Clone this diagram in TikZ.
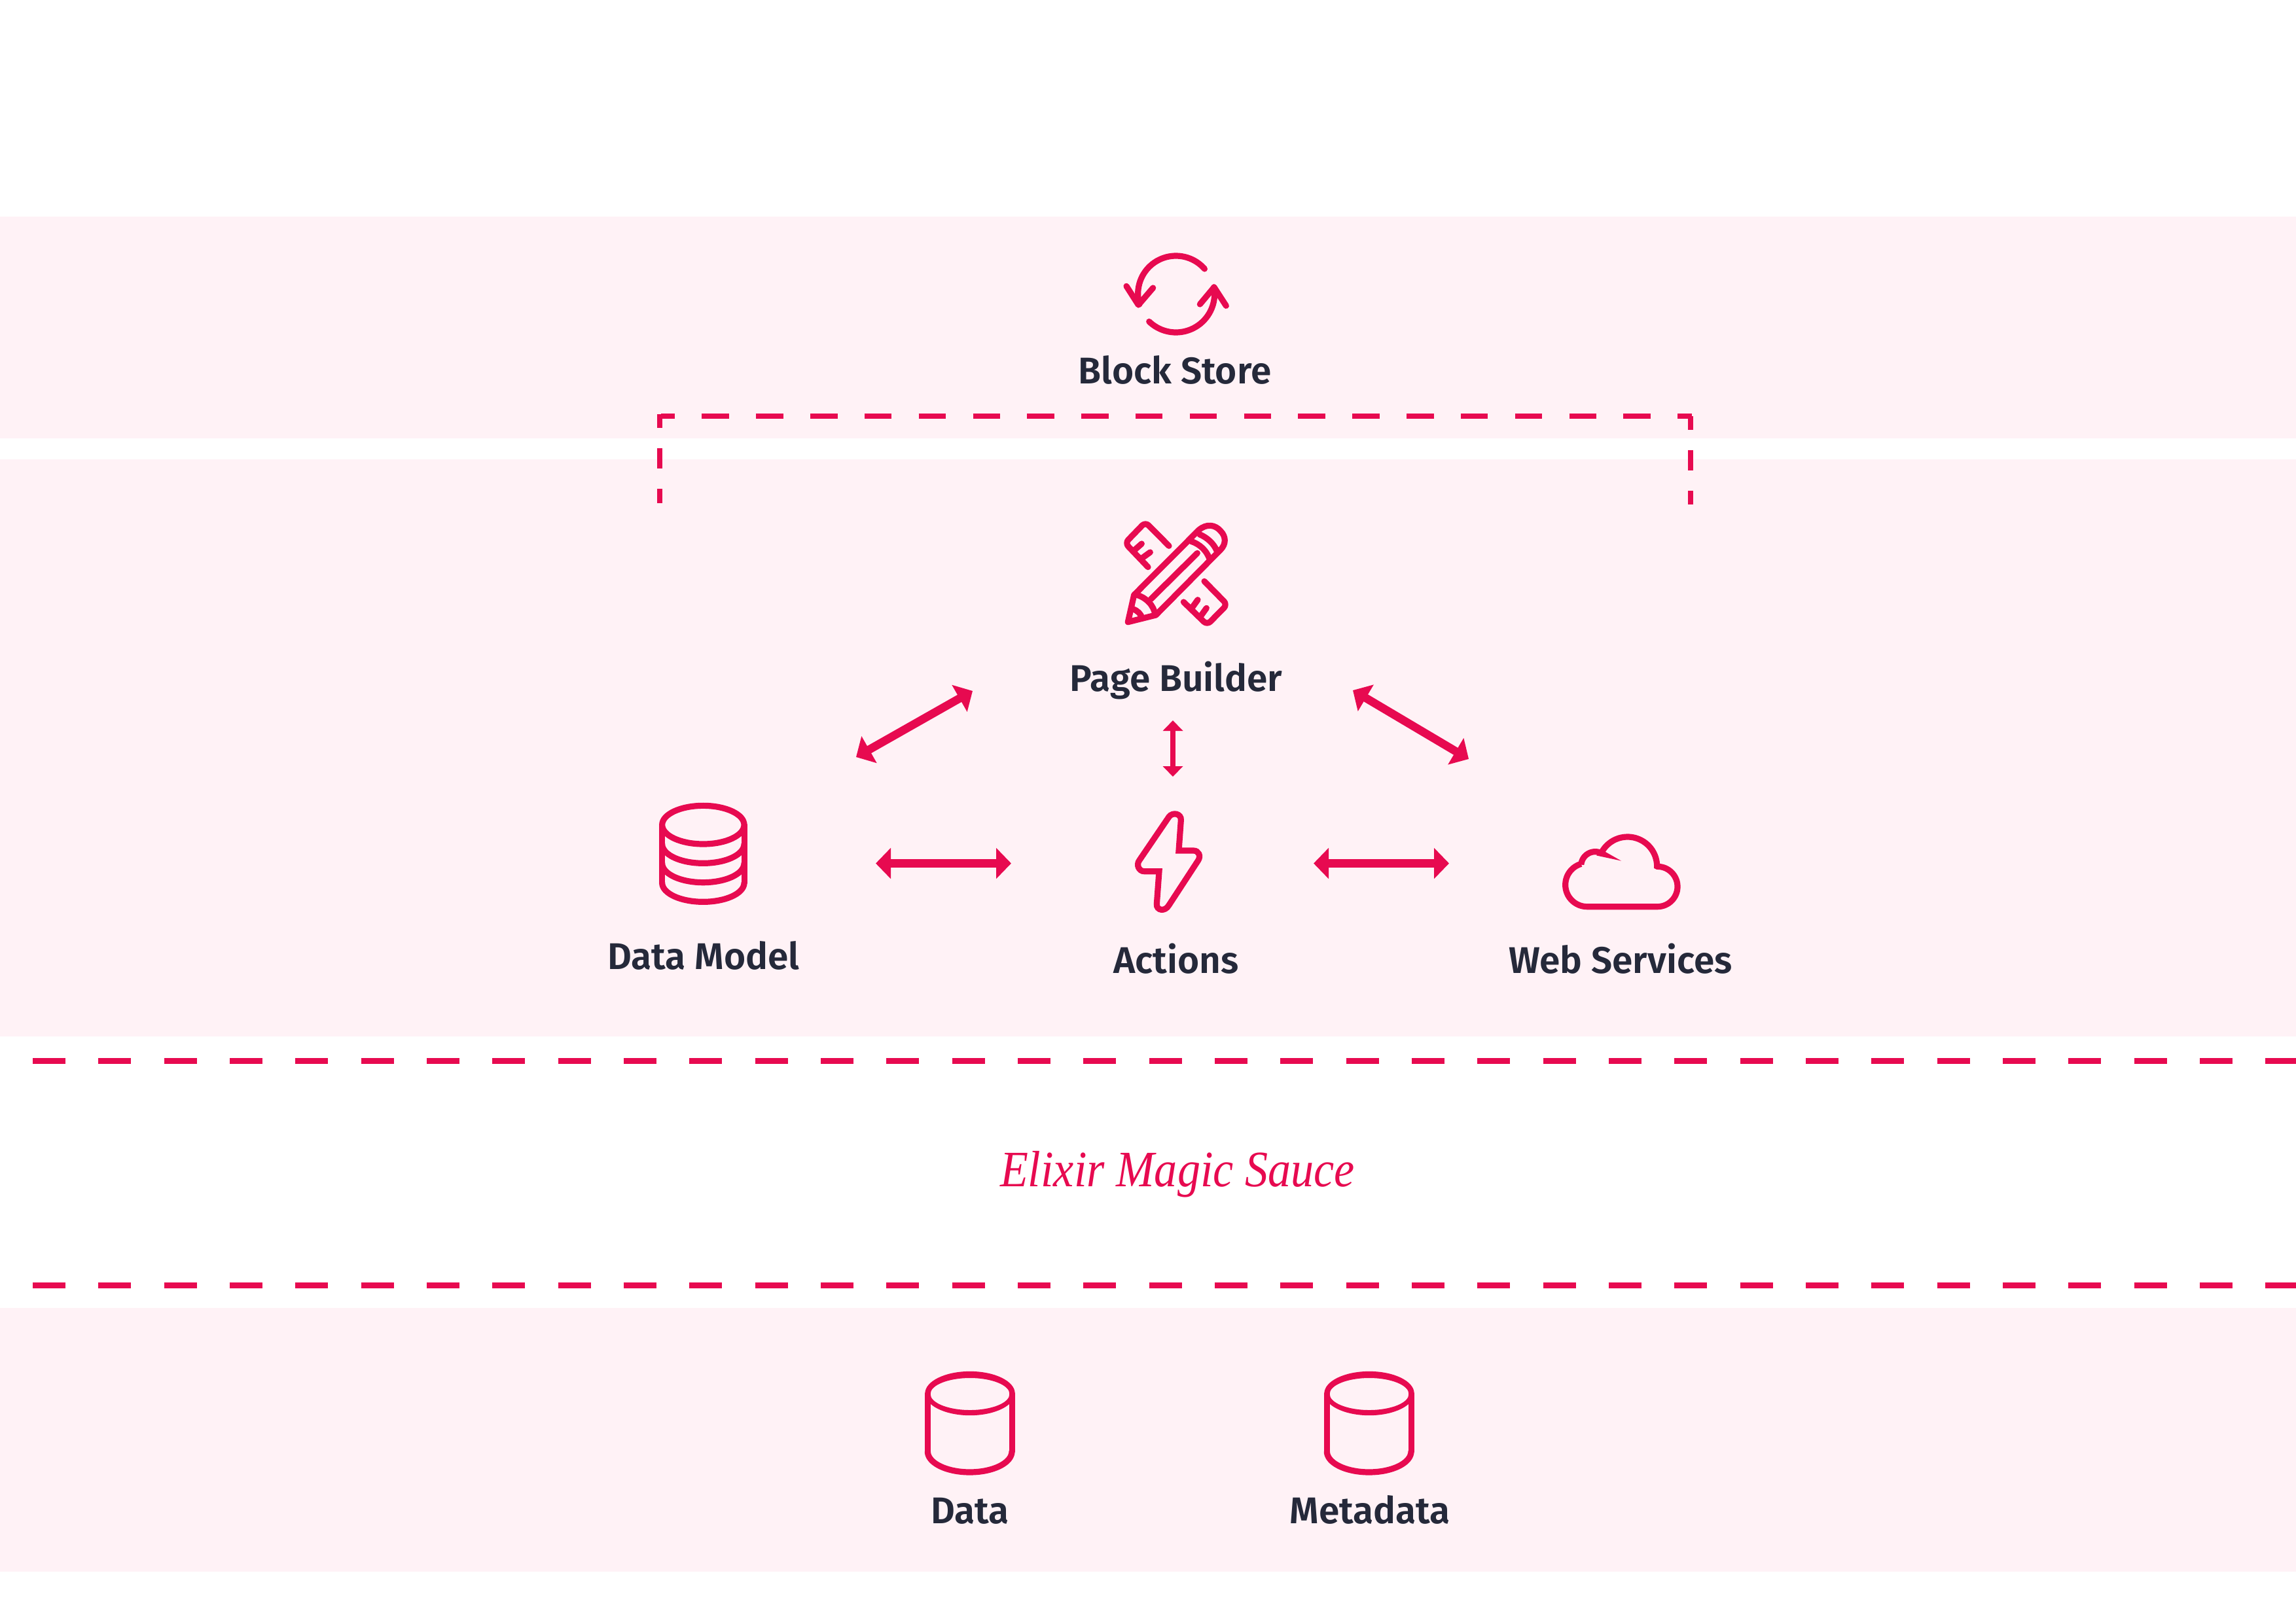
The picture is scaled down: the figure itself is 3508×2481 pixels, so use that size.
\documentclass[tikz,border=0pt]{standalone}
\usepackage{fontspec}
\usetikzlibrary{arrows.meta}
\newfontfamily\labfont{Fira Sans SemiBold}
\newfontfamily\magicfont[FakeStretch=0.9]{Liberation Serif Italic}
\definecolor{accent}{HTML}{E70A50}
\definecolor{bandpink}{HTML}{FFF2F6}
\definecolor{inktext}{HTML}{25293A}
\newcommand\earc[6]{plot[domain=#5:#6,samples=40] ({#1+#3*cos(\x)},{#2+#4*sin(\x)})}
\newcommand\larc[6]{-- plot[domain=#5:#6,samples=40] ({#1+#3*cos(\x)},{#2+#4*sin(\x)})}
\tikzset{
  band/.style={fill=bandpink,draw=none},
  ico/.style={draw=accent,line width=9.2pt,line cap=round,line join=round},
  icomiter/.style={draw=accent,line width=9.2pt,line cap=round,line join=miter,miter limit=10},
  sep/.style={draw=accent,line width=8.4pt,dash pattern=on 50pt off 50.33pt},
  brh/.style={draw=accent,line width=8.4pt,dash pattern=on 41.5pt off 41.33pt,dash phase=20.5pt},
  brv/.style={draw=accent,line width=8.4pt,dash pattern=on 31pt off 31pt,dash phase=10pt},
  bigarrow/.style={draw=accent,fill=accent,line width=12.6pt,{Triangle[length=23pt,width=46pt]}-{Triangle[length=23pt,width=46pt]}},
  smallarrow/.style={draw=accent,fill=accent,line width=8.7pt,{Triangle[length=16pt,width=30pt]}-{Triangle[length=16pt,width=30pt]}},
  lab/.style={anchor=base,inner sep=0pt,text=inktext,font=\labfont\fontsize{56.8}{60}\selectfont},
  magic/.style={anchor=base,inner sep=0pt,text=accent,font=\magicfont\fontsize{78}{90}\selectfont},
}
\begin{document}
\begin{tikzpicture}[x=1pt,y=-1pt]
\useasboundingbox (0,0) rectangle (3508,2481);
\fill[white] (0,0) rectangle (3508,2481);
% bands
\path[band] (0,331) rectangle (3508,670);
\path[band] (0,702) rectangle (3508,1584);
\path[band] (0,1999) rectangle (3508,2402);
% separators
\coordinate (sepAl) at (50,1621.5); \coordinate (sepAr) at (3508,1621.5);
\coordinate (sepBl) at (50,1964.5); \coordinate (sepBr) at (3508,1964.5);
\draw[sep] (sepAl) -- (sepAr);
\draw[sep] (sepBl) -- (sepBr);
% bracket
\coordinate (brTL) at (1010,636); \coordinate (brTR) at (2585,636);
\coordinate (brLa) at (1008,633); \coordinate (brLb) at (1008,769);
\coordinate (brRa) at (2583,636); \coordinate (brRb) at (2583,771);
\draw[brh] (brTL) -- (brTR);
\draw[brv] (brLa) -- (brLb);
\draw[brv] (brRa) -- (brRb);
% refresh icon
\begin{scope}[shift={(1650,360)},scale=0.33333]
\draw[ico] \earc{440}{267}{174}{174}{-41}{-196};
\draw[ico] (213,232) -- (268,318) -- (335,240);
\draw[ico] \earc{440}{267}{177}{177}{134}{-10};
\draw[ico] (670,322) -- (615,237) -- (550,315);
\end{scope}
% pencil and ruler icon
\begin{scope}[shift={(1680,770)},scale=0.33333]
\draw[ico,rounded corners=7pt] (318,193) -- (210,84) -- (117,180) -- (222,290);
\draw[ico] (160,212) -- (193,183);
\draw[ico] (196,248) -- (232,222);
\draw[ico,rounded corners=7pt] (480,355) -- (585,462) -- (493,555) -- (385,450);
\draw[ico] (420,482) -- (450,440);
\draw[ico] (460,520) -- (490,478);
\draw[ico] (130,542) -- (158,418) -- (455,120) .. controls (490,90) and (530,95) .. (555,125) .. controls (580,150) and (580,185) .. (555,210) -- (258,510) -- cycle;
\draw[ico] (235,437) -- (448,226);
\draw[ico] (160,415) .. controls (210,425) and (250,465) .. (255,510);
\draw[ico] (152,482) .. controls (175,490) and (190,505) .. (195,525);
\draw[ico] (420,172) .. controls (460,185) and (490,215) .. (503,250);
\draw[ico] (458,140) .. controls (495,155) and (525,185) .. (537,215);
\end{scope}
% database icon
\begin{scope}[shift={(960,1200)},scale=0.33333]
\draw[ico] (343,182) ellipse [x radius=188, y radius=88];
\draw[ico] \earc{343}{448}{188}{87}{180}{0};
\draw[ico] (155,182) -- (155,448);
\draw[ico] (532,182) -- (532,448);
\draw[ico] \earc{343}{270}{188}{88}{180}{0};
\draw[ico] \earc{343}{358}{188}{88}{180}{0};
\end{scope}
% lightning icon
\begin{scope}[shift={(1700,1210)},scale=0.33333]
\draw[icomiter] (303,270) -- (370,270) .. controls (395,270) and (405,295) .. (392,315) -- (258,520) .. controls (240,552) and (200,545) .. (202,515) -- (213,365) -- (145,365) .. controls (120,365) and (107,335) .. (122,315) -- (258,115) .. controls (275,92) and (315,100) .. (313,130) -- cycle;
\end{scope}
% cloud icon
\begin{scope}[shift={(2360,1250)},scale=0.33333]
\draw[icomiter] \earc{195}{307}{100}{100}{90}{254} \larc{232}{220}{65}{65}{-175}{-59} \larc{380}{222}{135}{135}{-154}{0} \larc{517}{315}{92}{92}{-90}{90} -- cycle;
\end{scope}
% cylinders
\begin{scope}[shift={(1380,2070)},scale=0.33333]
\fill[accent,even odd rule] (306,178.5) ellipse [x radius=206, y radius=101] (306,181.5) ellipse [x radius=181.5, y radius=73.5];
\draw[ico] \earc{305}{445}{193}{95}{180}{0};
\draw[ico] (112,180) -- (112,445);
\draw[ico] (499,180) -- (499,445);
\end{scope}
\begin{scope}[shift={(1990,2070)},scale=0.33333]
\fill[accent,even odd rule] (306,178.5) ellipse [x radius=206, y radius=101] (306,181.5) ellipse [x radius=181.5, y radius=73.5];
\draw[ico] \earc{305}{445}{193}{95}{180}{0};
\draw[ico] (112,180) -- (112,445);
\draw[ico] (499,180) -- (499,445);
\end{scope}
% arrows
\coordinate (aDMa) at (1308,1157); \coordinate (aDMb) at (1486,1056);
\coordinate (aWSa) at (2067,1055); \coordinate (aWSb) at (2244,1160);
\coordinate (aPAa) at (1792,1101); \coordinate (aPAb) at (1792,1187);
\coordinate (aLa) at (1338,1319.5); \coordinate (aLb) at (1545,1319.5);
\coordinate (aRa) at (2007,1319.5); \coordinate (aRb) at (2214,1319.5);
\draw[bigarrow] (aDMa) -- (aDMb);
\draw[bigarrow] (aWSa) -- (aWSb);
\draw[smallarrow] (aPAa) -- (aPAb);
\draw[bigarrow] (aLa) -- (aLb);
\draw[bigarrow] (aRa) -- (aRb);
% labels
\node[lab] (blockstore) at (1795,586) {Block Store};
\node[lab] (pagebuilder) at (1797,1056) {Page Builder};
\node[lab] (datamodel) at (1075,1481) {Data Model};
\node[lab] (actions) at (1797,1487) {Actions};
\node[lab] (webservices) at (2476,1487) {Web Services};
\node[lab] (data) at (1482,2328) {Data};
\node[lab] (metadata) at (2093,2328) {Metadata};
\node[magic] (elixir) at (1799,1813) {Elixir Magic Sauce};
\end{tikzpicture}
\end{document}
